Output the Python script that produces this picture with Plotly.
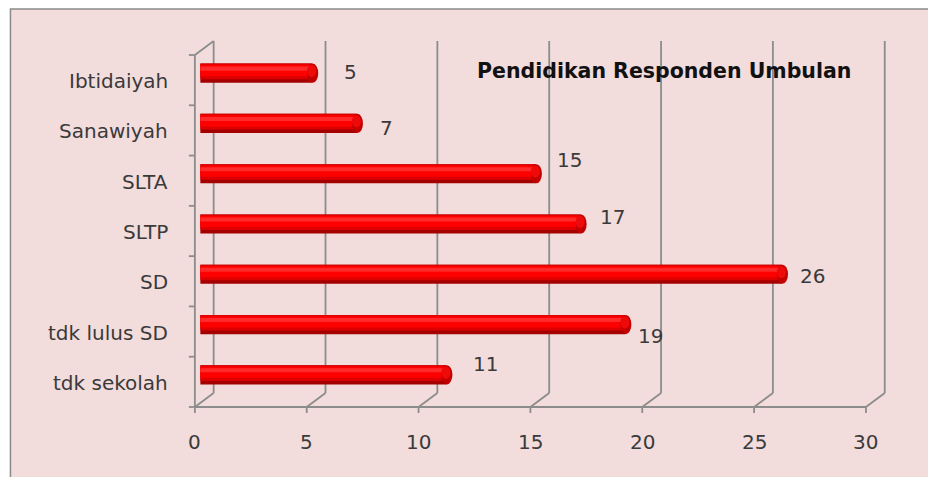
import plotly.graph_objects as go

# ---------------- data ----------------
categories = ["Ibtidaiyah", "Sanawiyah", "SLTA", "SLTP", "SD", "tdk lulus SD", "tdk sekolah"]
values = [5, 7, 15, 17, 26, 19, 11]
x_ticks = [0, 5, 10, 15, 20, 25, 30]
chart_title = "Pendidikan Responden Umbulan"

# ---------------- style / layout constants ----------------
label_dx = [32, 24, 28, 26, 25, 19, 33]     # px, value label offsets (style)
label_dy = [-1.5, 5, -14, -7, 2, 11, -11]   # px, positive = down

W, H = 928, 477
PX = 22.38            # pixels per unit on value axis
X0PX = 200            # pixel position of value 0 (mid depth)
XMIN, XMAX = -1.0, 31.5
L = X0PX + XMIN * PX
R = W - (X0PX + XMAX * PX)
PW = W - L - R
T = 48
PH = 352
B = H - T - PH

def u(px):
    return px / PX

def py(ypx):
    """pixel y -> paper fraction"""
    return (T + PH - ypx) / PH

DXF, DXB = -5.5, 13.3          # px: front / back plane horizontal offset
DYF, DYB = -7 / PH, 7 / PH     # paper: front / back plane vertical offset
GRID = "#8c8c8c"
TXT = "#3a3a3a"
FONT = "DejaVu Sans"
n = len(categories)

fig = go.Figure()

# bars built as layered horizontal bars to mimic a cylinder
layers = [
    ("#a50000", -0.19, 0.38),
    ("#dc0000", -0.19, 0.31),
    ("#ff0000", -0.165, 0.225),
    ("#ff2a2a", -0.13, 0.08),
]
for color, off, wid in layers:
    fig.add_trace(go.Bar(
        y=categories, x=values, orientation="h",
        width=wid, offset=off,
        marker=dict(color=color, line=dict(width=0)),
        hoverinfo="skip", showlegend=False,
    ))

shapes = []
# background panel with border
shapes.append(dict(type="rect", xref="paper", yref="paper",
                   x0=(10 - L) / PW, x1=(W + 6 - L) / PW,
                   y0=py(H + 6), y1=py(9),
                   line=dict(color="#8a8a8a", width=1.5),
                   fillcolor="#f2dcdc", layer="below"))

# back wall gridlines and floor slants / front ticks
for v in x_ticks:
    shapes.append(dict(type="line", xref="x", yref="paper",
                       x0=v + u(DXB), x1=v + u(DXB), y0=DYB, y1=1 + DYB,
                       line=dict(color=GRID, width=1.8), layer="below"))
    shapes.append(dict(type="line", xref="x", yref="paper",
                       x0=v + u(DXF), x1=v + u(DXB), y0=DYF, y1=DYB,
                       line=dict(color=GRID, width=1.8), layer="below"))
    shapes.append(dict(type="line", xref="x", yref="paper",
                       x0=v + u(DXF), x1=v + u(DXF), y0=DYF, y1=DYF - 6 / PH,
                       line=dict(color=GRID, width=1.8), layer="below"))

# front floor edge
shapes.append(dict(type="line", xref="x", yref="paper",
                   x0=x_ticks[0] + u(DXF), x1=x_ticks[-1] + u(DXF), y0=DYF, y1=DYF,
                   line=dict(color=GRID, width=1.8), layer="below"))
# left wall: front edge and top slant
shapes.append(dict(type="line", xref="x", yref="paper",
                   x0=u(DXF), x1=u(DXF), y0=DYF, y1=1 + DYF,
                   line=dict(color=GRID, width=1.8), layer="below"))
shapes.append(dict(type="line", xref="x", yref="paper",
                   x0=u(DXF), x1=u(DXB), y0=1 + DYF, y1=1 + DYB,
                   line=dict(color=GRID, width=1.8), layer="below"))
# category ticks on the front edge
for k in range(n + 1):
    yk = 1 + DYF - k / n
    shapes.append(dict(type="line", xref="x", yref="paper",
                       x0=u(DXF), x1=u(DXF - 6), y0=yk, y1=yk,
                       line=dict(color=GRID, width=1.8), layer="below"))

# rounded bar end caps
for i, v in enumerate(values):
    shapes.append(dict(type="circle", xref="x", yref="y",
                       xsizemode="pixel", xanchor=v, x0=-5, x1=6,
                       y0=i - 0.19, y1=i + 0.19,
                       fillcolor="#c20000", line=dict(width=0), layer="above"))
    shapes.append(dict(type="circle", xref="x", yref="y",
                       xsizemode="pixel", xanchor=v, x0=-5, x1=4,
                       y0=i - 0.165, y1=i + 0.08,
                       fillcolor="#ef0a0a", line=dict(width=0), layer="above"))

annotations = []
# category labels (front plane)
for c in categories:
    annotations.append(dict(x=0, xref="x", y=c, yref="y", text=c,
                            xanchor="right", yanchor="middle",
                            xshift=-30, yshift=-8, showarrow=False,
                            font=dict(family=FONT, size=20, color=TXT)))
# value-axis tick labels
for v in x_ticks:
    annotations.append(dict(x=v + u(DXF), xref="x", y=0, yref="paper", text=str(v),
                            xanchor="center", yanchor="middle", yshift=-42,
                            showarrow=False,
                            font=dict(family=FONT, size=20, color=TXT)))
# data labels
for i, v in enumerate(values):
    annotations.append(dict(x=v, xref="x", y=categories[i], yref="y", text=str(v),
                            xanchor="center", yanchor="middle",
                            xshift=6 + label_dx[i], yshift=-label_dy[i],
                            showarrow=False,
                            font=dict(family=FONT, size=20, color=TXT)))
# title inside the plot
annotations.append(dict(x=XMAX, xref="x", y=1, yref="paper", text="<b>" + chart_title + "</b>",
                        xanchor="right", yanchor="middle",
                        xshift=853 - (X0PX + XMAX * PX), yshift=-23, showarrow=False,
                        font=dict(family=FONT, size=20.5, color="#111111")))

fig.update_layout(
    width=W, height=H,
    margin=dict(l=L, r=R, t=T, b=B, pad=0),
    paper_bgcolor="white",
    plot_bgcolor="rgba(0,0,0,0)",
    barmode="overlay",
    showlegend=False,
    shapes=shapes,
    annotations=annotations,
    xaxis=dict(range=[XMIN, XMAX], showgrid=False, zeroline=False,
               showticklabels=False, showline=False, fixedrange=True),
    yaxis=dict(range=[n - 0.5, -0.5], type="category", categoryorder="array",
               categoryarray=categories, showgrid=False, zeroline=False,
               showticklabels=False, showline=False, fixedrange=True),
)

fig.write_html("out.html", config={"displayModeBar": False},
               post_script="document.body.style.margin='0';document.body.style.overflow='hidden';")
